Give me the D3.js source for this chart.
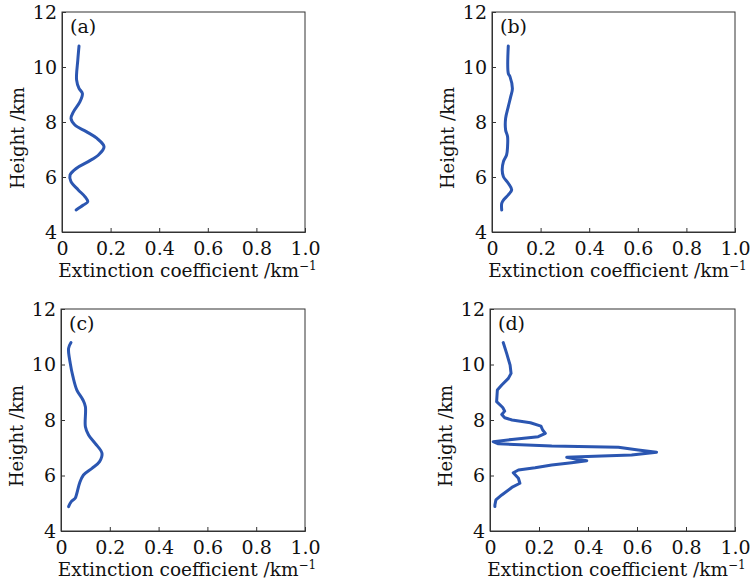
<!DOCTYPE html>
<html>
<head>
<meta charset="utf-8">
<script src="https://cdn.jsdelivr.net/npm/d3@7"></script>
<style>
  body { margin: 0; background: #fff; }
  text { font-family: "DejaVu Serif", serif; fill: #111; }
</style>
</head>
<body>
<svg id="chart"></svg>
<script>
// heights (km) and extinction values (km^-1)
const heightsA = [10.76, 10.25, 9.53, 9.22, 9.04, 8.74, 8.37, 8.13, 7.89, 7.65, 7.41, 7.10, 6.80, 6.56, 6.32, 6.07, 5.83, 5.53, 5.28, 5.10, 4.98, 4.80];
const extA     = [0.070, 0.065, 0.060, 0.070, 0.084, 0.074, 0.047, 0.037, 0.053, 0.100, 0.143, 0.173, 0.150, 0.108, 0.060, 0.033, 0.037, 0.067, 0.095, 0.106, 0.088, 0.058];

const heightsB = [10.76, 9.77, 9.65, 9.22, 8.92, 8.56, 8.13, 7.71, 7.47, 7.10, 6.80, 6.56, 6.25, 6.01, 5.77, 5.53, 5.35, 5.16, 5.04, 4.80];
const extB     = [0.067, 0.067, 0.074, 0.084, 0.077, 0.067, 0.056, 0.056, 0.064, 0.064, 0.060, 0.047, 0.042, 0.047, 0.067, 0.081, 0.067, 0.047, 0.040, 0.040];

const heightsC = [10.79, 10.58, 10.04, 9.56, 9.08, 8.72, 8.48, 7.76, 7.46, 7.16, 6.80, 6.50, 6.26, 6.02, 5.72, 5.36, 5.18, 5.06, 4.88];
const extC     = [0.041, 0.031, 0.038, 0.049, 0.065, 0.090, 0.100, 0.100, 0.113, 0.140, 0.168, 0.158, 0.127, 0.092, 0.076, 0.065, 0.058, 0.042, 0.031];

const heightsD = [10.79, 10.40, 9.98, 9.68, 9.50, 9.26, 9.08, 8.66, 8.45, 8.32, 8.20, 8.08, 8.00, 7.90, 7.78, 7.64, 7.52, 7.40, 7.30, 7.22, 7.14, 7.06, 7.02, 6.92, 6.84, 6.74, 6.70, 6.66, 6.58, 6.53, 6.46, 6.38, 6.28, 6.20, 6.10, 5.90, 5.72, 5.57, 5.30, 5.12, 4.94, 4.88];
const extD     = [0.054, 0.068, 0.082, 0.086, 0.075, 0.048, 0.030, 0.027, 0.052, 0.060, 0.048, 0.060, 0.090, 0.165, 0.208, 0.215, 0.226, 0.197, 0.089, 0.013, 0.034, 0.252, 0.524, 0.605, 0.680, 0.578, 0.456, 0.313, 0.360, 0.395, 0.333, 0.252, 0.184, 0.116, 0.095, 0.116, 0.122, 0.089, 0.048, 0.024, 0.020, 0.020];

const panelLabels = ["(a)", "(b)", "(c)", "(d)"];
const xTicks = [0, 0.2, 0.4, 0.6, 0.8, 1.0];
const yTicks = [4, 6, 8, 10, 12];

const svg = d3.select("#chart")
  .attr("width", 751)
  .attr("height", 584);

// plot boxes for the four panels
const panels = [
  { left: 62,  top: 12,  width: 243, height: 220, h: heightsA, v: extA, curve: d3.curveCatmullRom },
  { left: 492, top: 12,  width: 243, height: 220, h: heightsB, v: extB, curve: d3.curveCatmullRom },
  { left: 61,  top: 309, width: 244, height: 222, h: heightsC, v: extC, curve: d3.curveCatmullRom },
  { left: 490, top: 309, width: 245, height: 222, h: heightsD, v: extD, curve: d3.curveLinear }
];

panels.forEach((p, i) => {
  let g = svg.append("g")
    .attr("transform", `translate(${p.left},${p.top})`);

  let x = d3.scaleLinear().domain([0, 1]).range([0, p.width]);
  let y = d3.scaleLinear().domain([4, 12]).range([p.height, 0]);

  // frame
  g.append("rect")
    .attr("width", p.width)
    .attr("height", p.height)
    .attr("fill", "none")
    .attr("stroke", "#333")
    .attr("stroke-width", 1);

  let xAxis = g.append("g")
    .attr("transform", `translate(0,${p.height})`)
    .call(d3.axisBottom(x).tickValues(xTicks).tickSize(-4).tickPadding(10)
      .tickFormat(d => d === 0 ? "0" : d3.format(".1f")(d)));

  let yAxis = g.append("g")
    .call(d3.axisLeft(y).tickValues(yTicks).tickSize(-4).tickPadding(5));

  [xAxis, yAxis].forEach(a => {
    a.select(".domain").attr("stroke", "#333");
    a.selectAll(".tick line").attr("stroke", "#333");
    a.selectAll("text")
      .style("font-family", "DejaVu Serif, serif")
      .style("font-size", "19px")
      .attr("fill", "#111");
  });

  // profile line
  let pts = d3.zip(p.h, p.v);
  g.append("path")
    .datum(pts)
    .attr("fill", "none")
    .attr("stroke", "#2b56b1")
    .attr("stroke-width", 3)
    .attr("stroke-linejoin", "round")
    .attr("stroke-linecap", "round")
    .attr("d", d3.line()
      .x(d => x(d[1]))
      .y(d => y(d[0]))
      .curve(p.curve));

  g.append("text")
    .attr("x", 8)
    .attr("y", 21)
    .style("font-size", "19px")
    .text(panelLabels[i]);

  // axis titles
  let xl = g.append("text")
    .attr("x", p.width / 2 + 4)
    .attr("y", p.height + 45)
    .attr("text-anchor", "middle")
    .style("font-size", "18.5px");
  xl.append("tspan").text("Extinction coefficient /km");
  xl.append("tspan").attr("dy", -7).style("font-size", "12px").text("\u22121");

  g.append("text")
    .attr("transform", `translate(-38,${p.height / 2 + 16}) rotate(-90)`)
    .attr("text-anchor", "middle")
    .style("font-size", "18px")
    .text("Height /km");
});
</script>
</body>
</html>
